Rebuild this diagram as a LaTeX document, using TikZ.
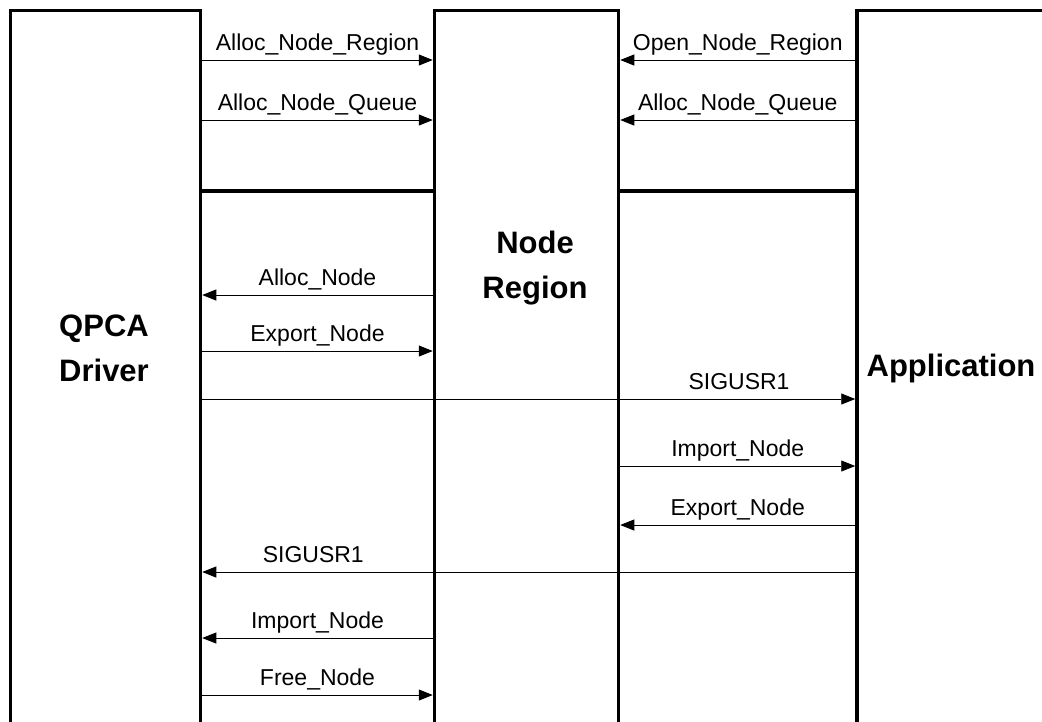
\documentclass[tikz,border=0pt]{standalone}
\usepackage{fontspec}
\setmainfont{Liberation Sans}
\usetikzlibrary{arrows.meta,positioning}

\begin{document}
\begin{tikzpicture}[
    x=1pt, y=-1pt,
    party/.style={draw, line width=3.5pt, minimum height=780pt, inner sep=0pt},
    title/.style={font=\fontsize{31}{45}\selectfont\bfseries, align=center},
    msg/.style={-{Triangle[length=14pt,width=11pt]}, line width=0.8pt},
    lbl/.style={font=\fontsize{23}{28}\selectfont, anchor=base, yshift=10pt, inner sep=0pt},
    sep/.style={line width=3.5pt}
]
\useasboundingbox (0,0) rectangle (1042,721);
\clip (0,0) rectangle (1042,721);

% the three columns
\node[party, minimum width=190pt] (driver) at (105.5,400.5) {};
\node[party, minimum width=184pt] (region) at (526.5,400.5) {};
\node[party, minimum width=250pt] (app) at (982,400.5) {};

\node[title] (drvname) at (104,348) {QPCA\\Driver};
\node[title] (regname) at (535,268) {Node\\Region};
\node[title] (appname) at (951,368) {Application};

% setup phase ends here
\draw[sep] (driver.east |- 0,191) -- (region.west |- 0,191);
\draw[sep] (region.east |- 0,191) -- (app.west |- 0,191);

\foreach \y/\a/\b/\t/\p in {
    60/driver.east/region.west/Alloc\_Node\_Region/0.5,
    120/driver.east/region.west/Alloc\_Node\_Queue/0.5,
    60/app.west/region.east/Open\_Node\_Region/0.5,
    120/app.west/region.east/Alloc\_Node\_Queue/0.5,
    295/region.west/driver.east/Alloc\_Node/0.5,
    351/driver.east/region.west/Export\_Node/0.5,
    399/driver.east/app.west/SIGUSR1/0.822,
    466/region.east/app.west/Import\_Node/0.5,
    525/app.west/region.east/Export\_Node/0.5,
    572/app.west/driver.east/SIGUSR1/0.83,
    638/region.west/driver.east/Import\_Node/0.5,
    695/driver.east/region.west/Free\_Node/0.5}
  \draw[msg] (\a |- 0,\y) -- node[lbl, pos=\p] {\t} (\b |- 0,\y);
\end{tikzpicture}
\end{document}
